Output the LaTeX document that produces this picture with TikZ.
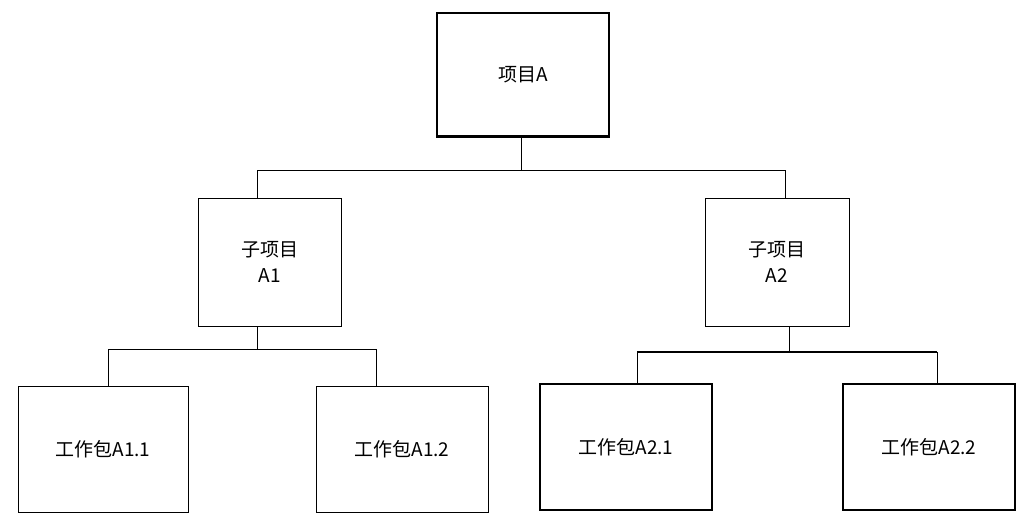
\documentclass[tikz,border=0pt]{standalone}
\usepackage{fontspec}
\setmainfont{Noto Sans CJK SC}
\begin{document}
\begin{tikzpicture}[x=1pt,y=-1pt,
  box/.style={draw,thick,align=center,font=\fontsize{19}{26}\selectfont,inner sep=0pt},
  ln/.style={draw,line width=0.8pt}]
\useasboundingbox (0,0) rectangle (1030,524);
\node[box,line width=2pt,minimum width=172pt,minimum height=123pt] (A) at (523,75) {项目A};
\node[box,minimum width=143pt,minimum height=128pt] (A1) at (270,262) {子项目\\A1};
\node[box,minimum width=144pt,minimum height=128pt] (A2) at (777,262) {子项目\\A2};
\node[box,minimum width=170pt,minimum height=126pt] (A11) at (103,449) {工作包A1.1};
\node[box,minimum width=172pt,minimum height=126pt] (A12) at (402,449) {工作包A1.2};
\node[box,line width=1.4pt,minimum width=172pt,minimum height=126pt] (A21) at (626,447) {工作包A2.1};
\node[box,line width=1.4pt,minimum width=172pt,minimum height=126pt] (A22) at (929,447) {工作包A2.2};
\coordinate (j0) at (521,170);
\coordinate (j1) at (257,349);
\coordinate (j2) at (789,352);
\draw[ln] (A.south -| j0) -- (j0);
\draw[ln] (257,170) -- (785,170);
\draw[ln] (257,170) -- (A1.north -| 257,0);
\draw[ln] (785,170) -- (A2.north -| 785,0);
\draw[ln] (A1.south -| j1) -- (j1);
\draw[ln] (108,349) -- (376,349);
\draw[ln] (108,349) -- (A11.north -| 108,0);
\draw[ln] (376,349) -- (A12.north -| 376,0);
\draw[ln] (A2.south -| j2) -- (j2);
\draw[line width=1.6pt] (637,352) -- (937,352);
\draw[ln] (637,352) -- (A21.north -| 637,0);
\draw[ln] (937,352) -- (A22.north -| 937,0);
\end{tikzpicture}
\end{document}
